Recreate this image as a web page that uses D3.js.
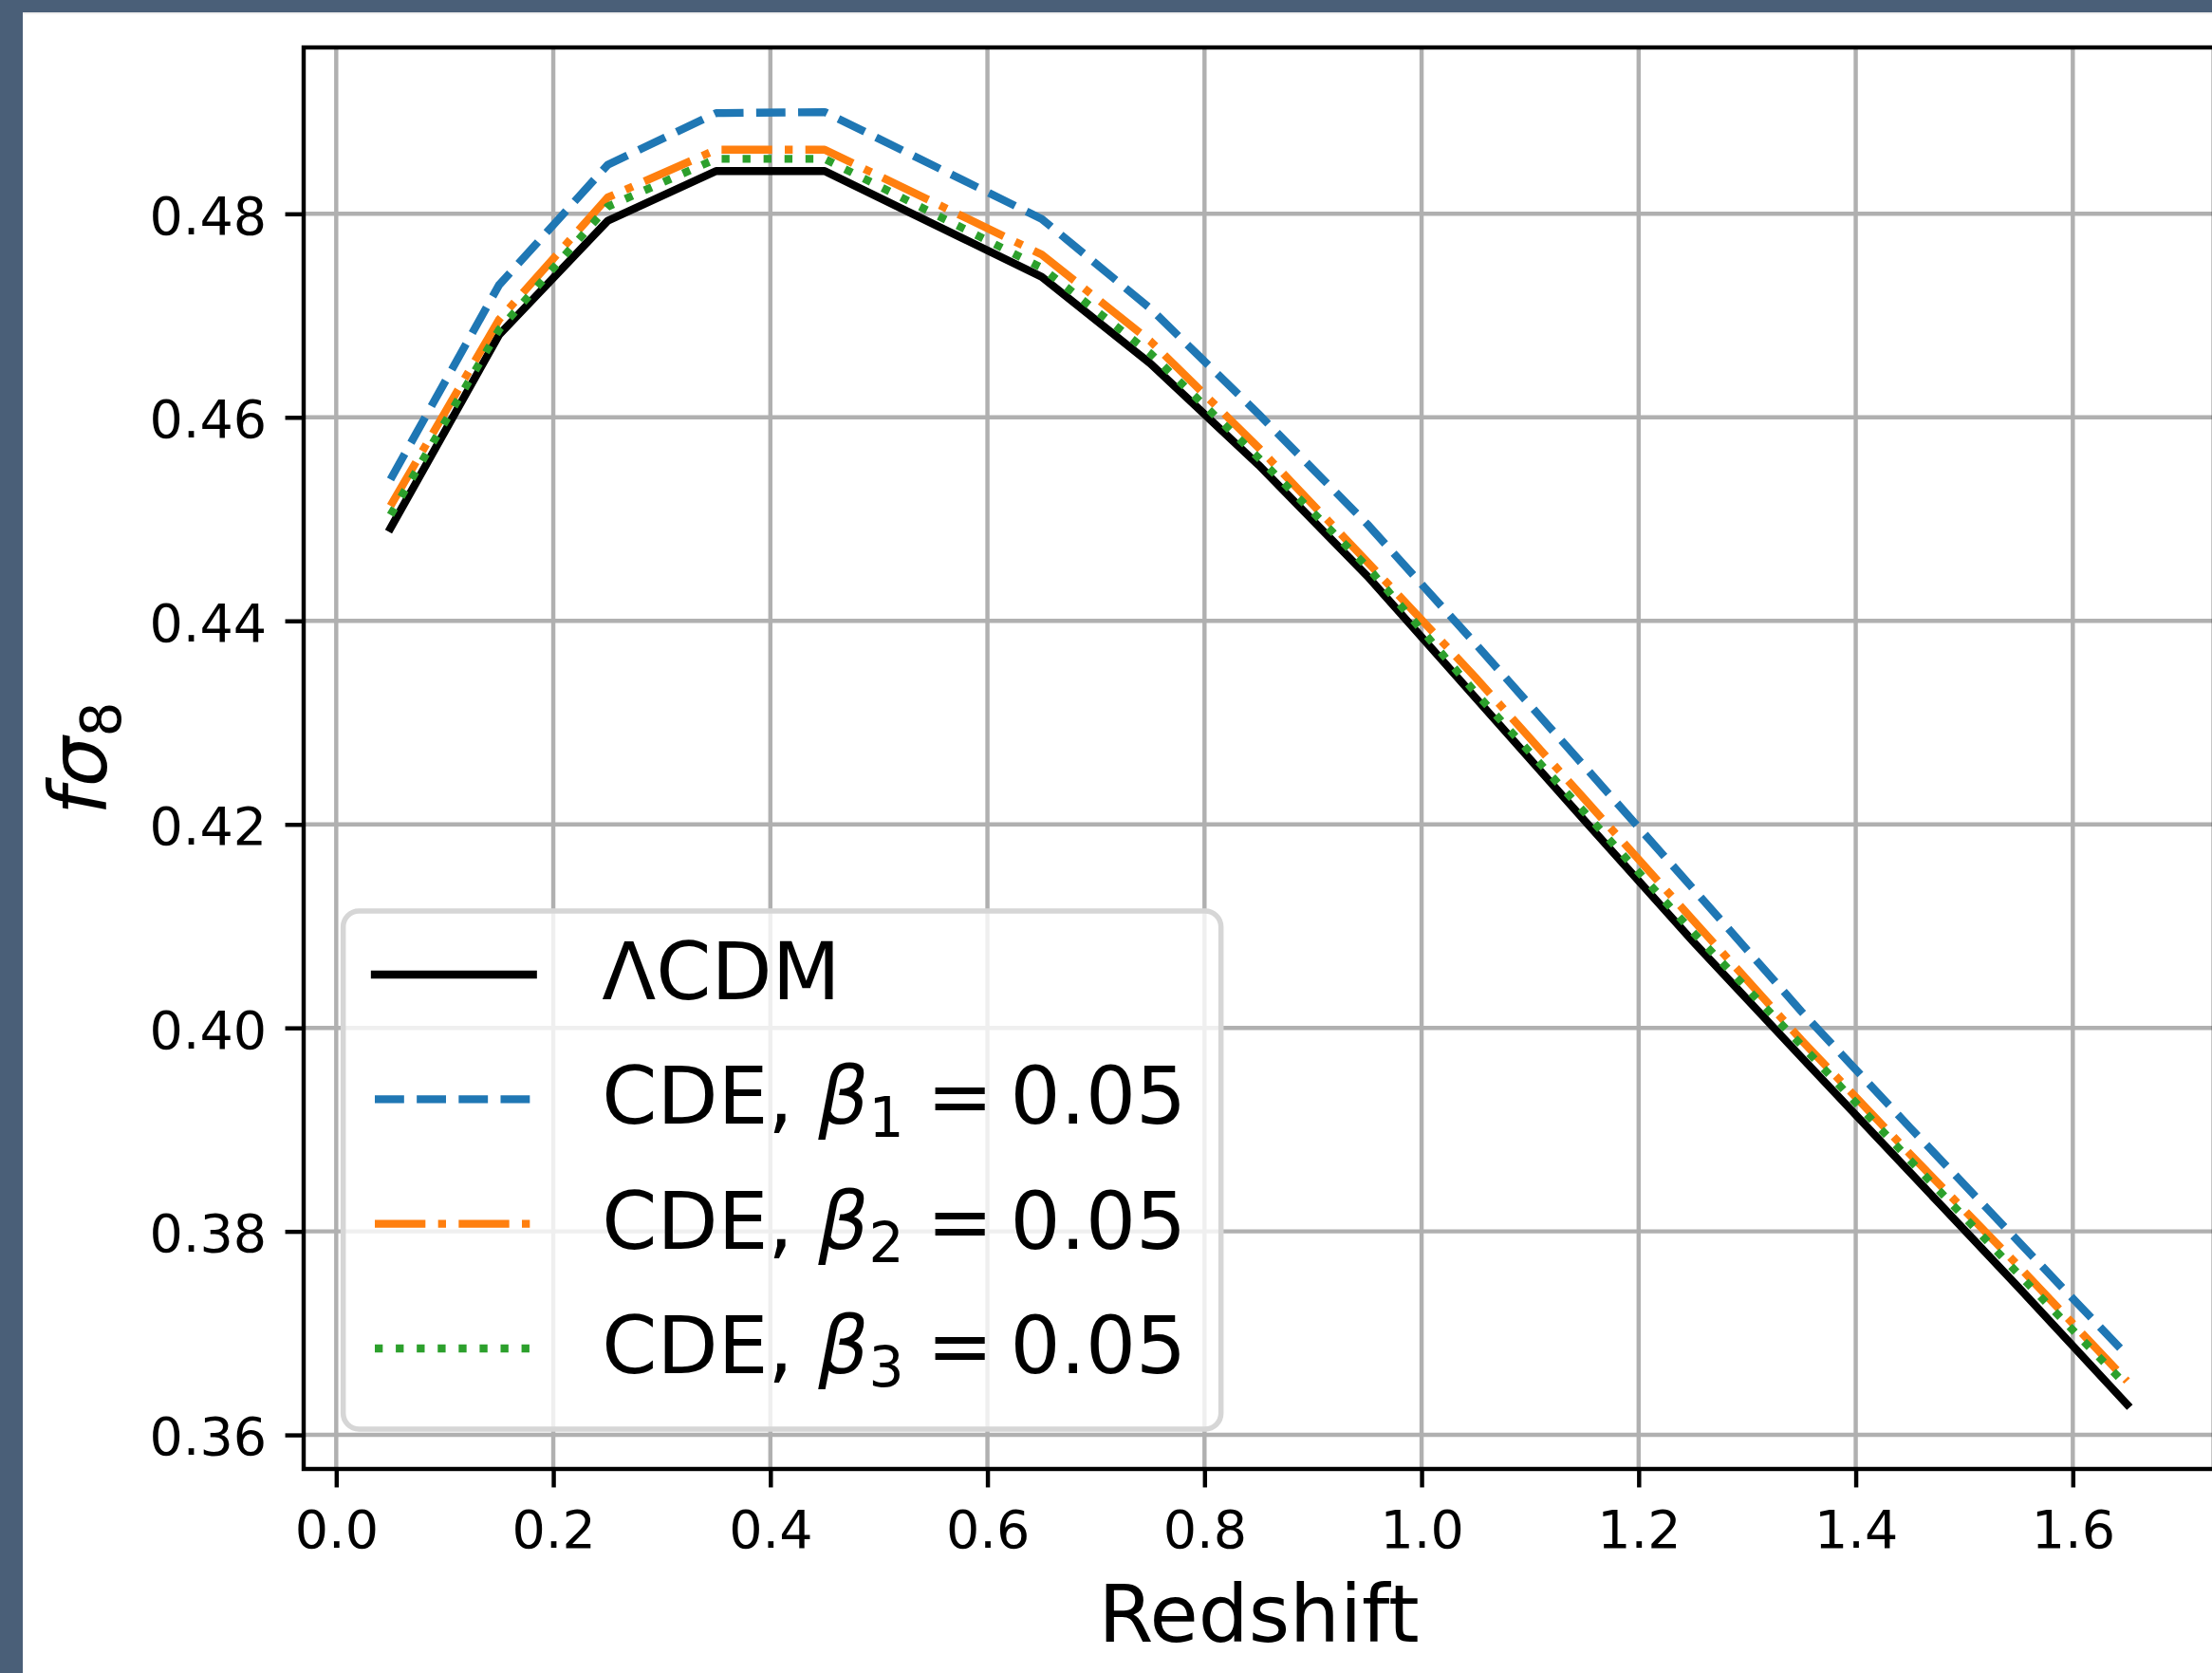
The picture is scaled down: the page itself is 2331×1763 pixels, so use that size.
<!DOCTYPE html>
<html>
<head>
<meta charset="utf-8">
<script src="https://cdn.jsdelivr.net/npm/d3@7"></script>
<style>
  html, body { margin: 0; padding: 0; background: #ffffff; }
  svg { display: block; }
  text { font-family: "DejaVu Sans", sans-serif; fill: #000; }
</style>
</head>
<body>
<svg id="chart" width="2331" height="1763"></svg>
<script>
// Growth-rate observable f*sigma_8 versus redshift
const redshift = [0.05, 0.15, 0.25, 0.35, 0.45, 0.65, 0.75, 0.85, 0.95, 1.05, 1.15, 1.25, 1.35, 1.45, 1.55, 1.65];
const lcdm     = [0.4491, 0.4681, 0.4793, 0.4842, 0.4842, 0.4738, 0.4653, 0.4553, 0.4444, 0.4324, 0.4204, 0.4085, 0.3971, 0.3858, 0.3745, 0.3630];
const cdeBeta1 = [0.4539, 0.4730, 0.4848, 0.4899, 0.4900, 0.4795, 0.4707, 0.4603, 0.4495, 0.4377, 0.4257, 0.4137, 0.4016, 0.3902, 0.3790, 0.3678];
const cdeBeta2 = [0.4513, 0.4696, 0.4816, 0.4863, 0.4863, 0.4760, 0.4675, 0.4570, 0.4458, 0.4344, 0.4225, 0.4106, 0.3988, 0.3876, 0.3766, 0.3653];
const cdeBeta3 = [0.4504, 0.4686, 0.4807, 0.4854, 0.4854, 0.4747, 0.4663, 0.4560, 0.4453, 0.4329, 0.4212, 0.4094, 0.3983, 0.3870, 0.3758, 0.3648];

const xTickValues = [0.0, 0.2, 0.4, 0.6, 0.8, 1.0, 1.2, 1.4, 1.6];
const yTickValues = [0.36, 0.38, 0.40, 0.42, 0.44, 0.46, 0.48];

const seriesNames = ["lcdm", "beta1", "beta2", "beta3"];
const seriesValues = [lcdm, cdeBeta1, cdeBeta2, cdeBeta3];
const seriesSubscripts = [null, "1", "2", "3"];
const couplingValue = "0.05";

// ---- styling (400 dpi: 1pt = 5.556px) ----
const PT = 400 / 72;
const LW = 1.5 * PT;
const styles = {
  lcdm:  { color: "#000000", dash: null, cap: "square" },
  beta1: { color: "#1f77b4", dash: [3.7 * LW, 1.6 * LW], cap: "butt" },
  beta2: { color: "#ff7f0e", dash: [6.4 * LW, 1.6 * LW, 1.0 * LW, 1.6 * LW], cap: "butt" },
  beta3: { color: "#2ca02c", dash: [1.0 * LW, 1.65 * LW], cap: "butt" }
};
const tickFont = 10 * PT;
const labelFont = 15 * PT;

const svg = d3.select("#chart");
const W = 2331, H = 1763;

// page frame
svg.append("rect").attr("x", 0).attr("y", 0).attr("width", W).attr("height", H).attr("fill", "#ffffff");
svg.append("rect").attr("x", 0).attr("y", 13).attr("width", W).attr("height", 2).attr("fill", "#efefef");
svg.append("rect").attr("x", 0).attr("y", 0).attr("width", W).attr("height", 13).attr("fill", "#4a5f78");
svg.append("rect").attr("x", 0).attr("y", 0).attr("width", 24).attr("height", H).attr("fill", "#4a5f78");

// axes box
const ax = { left: 320, top: 50, right: 2333, bottom: 1548 };

function padded(ext) {
  const m = (ext[1] - ext[0]) * 0.05;
  return [ext[0] - m, ext[1] + m];
}
const allY = seriesValues.flat();
const x = d3.scaleLinear().domain(padded(d3.extent(redshift))).range([ax.left, ax.right]);
const y = d3.scaleLinear().domain(padded(d3.extent(allY))).range([ax.bottom, ax.top]);

svg.append("defs").append("clipPath").attr("id", "plotclip")
  .append("rect").attr("x", ax.left).attr("y", ax.top)
  .attr("width", ax.right - ax.left).attr("height", ax.bottom - ax.top);

// grid
const grid = svg.append("g").attr("stroke", "#b0b0b0").attr("stroke-width", 0.8 * PT);
grid.selectAll("line.vx").data(xTickValues).join("line").attr("class", "vx")
  .attr("x1", d => x(d)).attr("x2", d => x(d)).attr("y1", ax.top).attr("y2", ax.bottom);
grid.selectAll("line.hy").data(yTickValues).join("line").attr("class", "hy")
  .attr("y1", d => y(d)).attr("y2", d => y(d)).attr("x1", ax.left).attr("x2", ax.right);

// curves
const line = d3.line().x(d => x(d[0])).y(d => y(d[1]));
const curves = svg.append("g").attr("clip-path", "url(#plotclip)");
seriesNames.forEach((name, i) => {
  const st = styles[name];
  const pts = redshift.map((z, j) => [z, seriesValues[i][j]]);
  curves.append("path")
    .attr("d", line(pts))
    .attr("fill", "none")
    .attr("stroke", st.color)
    .attr("stroke-width", LW)
    .attr("stroke-linejoin", "round")
    .attr("stroke-linecap", st.cap)
    .attr("stroke-dasharray", st.dash ? st.dash.join(",") : null);
});

// axes with ticks
const tickLen = 3.5 * PT;
const xAxis = d3.axisBottom(x).tickValues(xTickValues).tickFormat(d3.format(".1f"))
  .tickSize(tickLen).tickPadding(24);
const yAxis = d3.axisLeft(y).tickValues(yTickValues).tickFormat(d3.format(".2f"))
  .tickSize(tickLen).tickPadding(3.5 * PT);

const gx = svg.append("g").attr("transform", `translate(0,${ax.bottom})`).call(xAxis);
const gy = svg.append("g").attr("transform", `translate(${ax.left},0)`).call(yAxis);
[gx, gy].forEach(g => {
  g.select(".domain").remove();
  g.selectAll(".tick line").attr("stroke", "#000").attr("stroke-width", 0.8 * PT);
  g.selectAll(".tick text").attr("font-size", tickFont)
    .attr("font-family", "DejaVu Sans").attr("fill", "#000");
});
gy.selectAll(".tick text").attr("dy", "0.375em");

// spines
svg.append("rect").attr("x", ax.left).attr("y", ax.top)
  .attr("width", ax.right - ax.left).attr("height", ax.bottom - ax.top)
  .attr("fill", "none").attr("stroke", "#000").attr("stroke-width", 0.8 * PT)
  .attr("stroke-linejoin", "miter");

// axis labels
svg.append("text").attr("x", (ax.left + ax.right) / 2).attr("y", 1730)
  .attr("text-anchor", "middle").attr("font-size", labelFont).text("Redshift");

const ylab = svg.append("text")
  .attr("transform", `translate(112,${(ax.top + ax.bottom) / 2}) rotate(-90)`)
  .attr("text-anchor", "middle").attr("font-size", labelFont);
ylab.append("tspan").attr("font-style", "italic").text("f");
ylab.append("tspan").attr("font-style", "italic").text("σ");
ylab.append("tspan").attr("font-size", labelFont * 0.7).attr("dy", 15).text("8");

// legend
const lg = { x: ax.left + 0.5 * labelFont, y: 960, w: 925, h: 1506 - 960 };
const legend = svg.append("g");
legend.append("rect").attr("x", lg.x).attr("y", lg.y).attr("width", lg.w).attr("height", lg.h)
  .attr("rx", 0.2 * labelFont).attr("ry", 0.2 * labelFont)
  .attr("fill", "#ffffff").attr("fill-opacity", 0.8)
  .attr("stroke", "#d6d6d6").attr("stroke-width", 1.0 * PT);

const handleX0 = lg.x + 0.4 * labelFont;
const handleX1 = handleX0 + 2.0 * labelFont;
const textX = handleX1 + 0.8 * labelFont + 6;
const rowY = d3.scaleLinear().domain([0, 3]).range([1027, 1421]);

seriesNames.forEach((name, i) => {
  const st = styles[name];
  const yy = rowY(i);
  legend.append("line").attr("x1", handleX0).attr("x2", handleX1).attr("y1", yy).attr("y2", yy)
    .attr("stroke", st.color).attr("stroke-width", LW)
    .attr("stroke-linecap", st.cap)
    .attr("stroke-dasharray", st.dash ? st.dash.join(",") : null);
  const t = legend.append("text").attr("x", textX).attr("y", yy + 26).attr("font-size", labelFont);
  if (seriesSubscripts[i] === null) {
    t.text("ΛCDM");
  } else {
    t.append("tspan").text("CDE, ");
    t.append("tspan").attr("font-style", "italic").text("β");
    t.append("tspan").attr("font-size", labelFont * 0.7).attr("dy", 14).text(seriesSubscripts[i]);
    t.append("tspan").attr("dx", 24).attr("dy", -14).text("=");
    t.append("tspan").attr("dx", 18).text(couplingValue);
  }
});
</script>
</body>
</html>
